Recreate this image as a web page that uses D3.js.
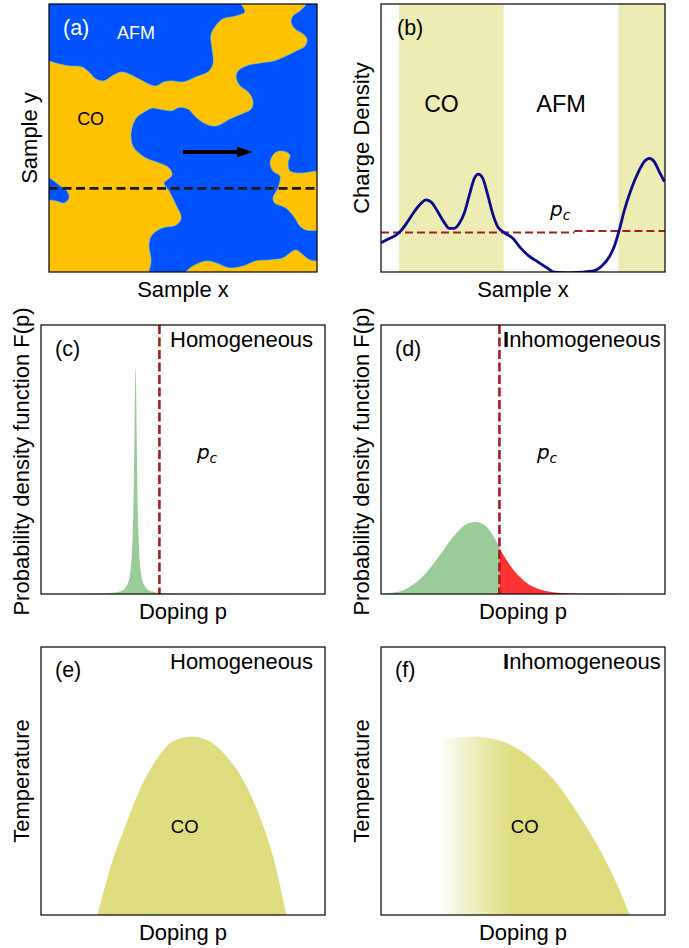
<!DOCTYPE html>
<html><head><meta charset="utf-8">
<script src="https://cdn.jsdelivr.net/npm/d3@7"></script>
<style>body{margin:0;background:#fff} svg{display:block}</style>
</head><body>
<svg id="fig" width="689" height="948"></svg>
<script>
// ---------------- DATA ----------------
// (a) domain map, sample units 0..100 (x right, y up). Each region = list of boundary segments.
const coRegionMain = [
  [[-3,79.3],[0,78.7],[3.7,77.6],[7.5,76.9],[12.3,76.5],[14.9,74.6],[17.5,72],[20.5,71.3],[23.5,73.1],[26.9,74.6],[29.8,73.9],[33.6,72],[37.3,70.1],[39.9,69.4],[42.9,70.9],[45.9,71.3],[50,70.9],[54.8,72.8],[59.3,74.6],[61.2,77.6],[60.8,83.9],[60.4,88.1],[61.9,91.4],[64.9,94.4],[69.8,95.5],[73.1,97],[72.4,98.9],[71.6,100],[71.2,103]],
  [[96.5,103],[96,100],[93.5,97.4],[91,95.5],[90.3,93.3],[91.8,90.7],[94.8,88.8],[96.3,86.9],[95.5,84.3],[92.2,82.5],[88.4,80.6],[83.6,78.7],[78.7,78],[73.5,76.9],[70.5,75],[69.8,72.8],[71.3,69.4],[74.3,67.2],[76.1,63.8],[75.4,60.8],[71.6,58.9],[67.5,57.1],[62.3,54.5],[58.6,55.2],[54.8,57.8],[51.9,60.8],[48.5,61.4],[45.9,60.2],[42.2,60.6],[38.4,61.2],[36.2,60.1],[32.8,57.8],[31,54.1],[30.6,50],[31.7,46.3],[36.2,42.5],[41,40.7],[44.8,38.8],[45.9,36.2],[44,34.3],[42.9,33.2],[44.8,30.2],[47.4,25],[49.3,20.1],[47.4,17.5],[42.2,16.4],[38.4,13.8],[37.3,10.1],[38.1,4.1],[37.3,0],[37.2,-3]],
  [[-3,-3]],
  [[-3,26.9],[0,26.9],[2.6,26.5],[5.6,25.7],[7.5,27.6],[6.7,30.2],[3.7,32.5],[0,35.1],[-3,35.3]]
];
const coRegionRight = [
  [[103,37.9],[100,37.7],[93.6,36.9],[89.9,37.7],[89.2,40.7],[89.9,43.7],[87.3,45.1],[84.3,44.4],[82.5,40.7],[83.6,37.7],[86.2,35.8],[85.4,31.3],[83.6,27.6],[84.3,25.7],[88.4,23.9],[91.8,20.1],[93.6,17.2],[95.9,15.7],[100,15.5],[103,15.5]]
];
const coRegionBottom = [
  [[48.5,-3],[51,0],[53.7,2.2],[58.6,4.1],[62.3,3.4],[67.5,1.5],[72.4,2.2],[77.2,4.1],[82.5,4.5],[87.3,5.2],[89.9,7.1],[92.2,8.2],[94.8,6.3],[97.4,4.5],[100,4.1],[103,4.1]],
  [[103,-3]]
];
const cutLineY = 31.2;
const arrowMap = {x0: 50, x1: 76.1, head: 70.1, y: 44.8};

// (b) charge density along the cut
const chargeX = [0,2.4,5.3,7,9.4,11.7,14.1,15.8,17.6,20,22.3,24,25.8,27.6,29.3,31.1,32.9,34.3,35.8,37.6,39.3,41.1,43.4,46.4,49.3,51.7,55.2,58.7,61,65.7,70.4,75.1,78.1,80.4,82.1,83.9,85.7,88,90.4,92.7,94.5,96.2,98,99.8];
const chargeY = [10.9,12.2,13.8,15.4,18.8,22.5,25.6,26.9,26.2,22.5,18.4,16.3,16.3,18.2,21.9,28.7,35,36.5,35,28.7,21.9,16.9,14.7,12.6,8.8,6.3,3.8,1.4,-0.1,-0.3,-0.1,0.5,2.6,5.7,9.4,15.7,23.1,30.6,36.8,41.2,42.4,41.2,37.4,33.7];
const coBands = [[6.4,43.2],[83.6,100]];
const pcLevels = [[0,68.1,14.7],[68.1,100,15.3]];

// (c) homogeneous PDF
const pdfHomX = [13.3,23.3,27.3,29.3,30.3,31.1,31.6,32.0,32.3,32.5,32.7,32.9,33.1,33.3,33.5,33.7,33.9,34.1,34.3,34.6,35.0,35.5,36.3,37.3,39.3,43.3,53.3,83];
const pdfHomY = [0.08,0.3,0.85,1.9,3.3,5.9,9.4,14.9,22.4,30.5,42.3,58.6,76.1,84.6,76.1,58.6,42.3,30.5,22.4,14.9,9.4,5.9,3.3,1.9,0.85,0.3,0.08,0];
// (d) inhomogeneous PDF
const pdfInhX = [0,4,7,10,13,16,19,22,25,28,31,33.3,35.5,38,40,41.7,44,46.6,49,51.3,54,58,62,68,75,85];
const pdfInhY = [0.1,0.5,1.0,2.6,4.8,8,12,16.3,20.7,24.3,26.4,26.8,26.2,24,20.8,17.2,13,9,6.2,4.1,2.5,1.1,0.5,0.2,0.05,0];
const pcDoping = 41.7;

// (e) homogeneous CO dome
const domeHomX = [19.9,24.2,30.1,34.8,40.6,46.5,53,59.4,65.3,71.1,77,81.7,86.4];
const domeHomY = [0,16.9,34.3,46.8,57.9,64.8,66.6,64.8,59.2,50.5,36.8,21.9,0];
// (f) inhomogeneous CO dome
const domeInhX = [21.3,21.3,22.2,24.5,28,32.4,38,44.2,53.5,61.8,68.8,77,82.9,87.6];
const domeInhY = [0,62.5,64.6,65.7,66.4,66.6,66,64.2,57.9,49.3,38.7,24.4,11.9,0];
const fadeRange = [21.3, 46];

const panelTags = ["(a)","(b)","(c)","(d)","(e)","(f)"];
const yLabels = ["Sample y","Charge Density","Probability density function F(p)","Probability density function F(p)","Temperature","Temperature"];
const xLabels = ["Sample x","Sample x","Doping p","Doping p","Doping p","Doping p"];
const stateLabels = ["Homogeneous","Inhomogeneous","Homogeneous","Inhomogeneous"];

// ---------------- DRAW ----------------
const svg = d3.select("#fig");
svg.append("rect").attr("width",689).attr("height",948).attr("fill","#fff");
const FONT = "'Liberation Sans', Arial, Helvetica, sans-serif";
const MATH = "'DejaVu Sans', sans-serif";

const frames = [
  {l:49,t:4,r:317,b:272},
  {l:381,t:4,r:665,b:272},
  {l:41,t:325,r:325,b:594},
  {l:381,t:325,r:665,b:594},
  {l:41,t:647,r:325,b:915},
  {l:381,t:647,r:665,b:915}
];
const ylabX = [36.5,368.5,28.5,368.5,29,369];
const defs = svg.append("defs");

const panels = frames.map((f,i)=>{
  const x = d3.scaleLinear().domain([0,100]).range([f.l,f.r]);
  const y = d3.scaleLinear().domain([0,100]).range([f.b,f.t]);
  const id = "clip"+i;
  defs.append("clipPath").attr("id",id).append("rect")
    .attr("x",f.l).attr("y",f.t).attr("width",f.r-f.l).attr("height",f.b-f.t);
  const g = svg.append("g");
  const inner = g.append("g").attr("clip-path",`url(#${id})`);
  return {f,x,y,g,inner};
});

function regionPath(segs,x,y){
  const ln = d3.line().x(d=>x(d[0])).y(d=>y(d[1])).curve(d3.curveCatmullRom.alpha(0.5));
  let s = "";
  segs.forEach((seg,i)=>{
    let p = seg.length>1 ? ln(seg) : `M${x(seg[0][0])},${y(seg[0][1])}`;
    if(i>0) p = "L"+p.slice(1);
    s += p;
  });
  return s+"Z";
}

// ---- (a)
{
  const {f,x,y,inner} = panels[0];
  inner.append("rect").attr("x",f.l).attr("y",f.t).attr("width",f.r-f.l).attr("height",f.b-f.t).attr("fill","#0052FF");
  [coRegionMain,coRegionRight,coRegionBottom].forEach(r=>{
    inner.append("path").attr("d",regionPath(r,x,y)).attr("fill","#FFC200")
      .attr("stroke","#7fd0c0").attr("stroke-width",0.6);
  });
  inner.append("line").attr("x1",x(0)).attr("x2",x(100)).attr("y1",y(cutLineY)).attr("y2",y(cutLineY))
    .attr("stroke","#1a1a1a").attr("stroke-width",2.6).attr("stroke-dasharray","9,4.5");
  inner.append("line").attr("x1",x(arrowMap.x0)).attr("x2",x(arrowMap.head)+1).attr("y1",y(arrowMap.y)).attr("y2",y(arrowMap.y))
    .attr("stroke","#000").attr("stroke-width",4);
  const p = d3.path();
  p.moveTo(x(arrowMap.head), y(arrowMap.y)-5.5);
  p.lineTo(x(arrowMap.x1), y(arrowMap.y));
  p.lineTo(x(arrowMap.head), y(arrowMap.y)+5.5);
  p.closePath();
  inner.append("path").attr("d",p.toString()).attr("fill","#000");
  inner.append("text").attr("x",f.l+14).attr("y",f.t+31).text(panelTags[0])
    .attr("font-family",FONT).attr("font-size",21.5).attr("fill","#fff");
  inner.append("text").attr("x",x(25.4)).attr("y",f.t+35).text("AFM")
    .attr("font-family",FONT).attr("font-size",18).attr("fill","#fff");
  inner.append("text").attr("x",x(10.5)).attr("y",124.5).text("CO")
    .attr("font-family",FONT).attr("font-size",18).attr("fill","#000");
}

// ---- (b)
{
  const {f,x,y,inner} = panels[1];
  coBands.forEach(b=>{
    inner.append("rect").attr("x",x(b[0])).attr("width",x(b[1])-x(b[0])).attr("y",f.t).attr("height",f.b-f.t)
      .attr("fill","#EEECB5");
  });
  pcLevels.forEach(l=>{
    inner.append("line").attr("x1",x(l[0])).attr("x2",x(l[1])).attr("y1",y(l[2])).attr("y2",y(l[2]))
      .attr("stroke","#A31F1F").attr("stroke-width",2).attr("stroke-dasharray","8,4");
  });
  const ln = d3.line().x((d,i)=>x(chargeX[i])).y(d=>y(d)).curve(d3.curveMonotoneX);
  inner.append("path").attr("d",ln(chargeY)).attr("fill","none").attr("stroke","#0B0B8C").attr("stroke-width",2.8)
    .attr("stroke-linejoin","round");
  inner.append("text").attr("x",f.l+16).attr("y",f.t+31).text(panelTags[1])
    .attr("font-family",FONT).attr("font-size",21.5).attr("fill","#000");
  inner.append("text").attr("x",x((coBands[0][0]+coBands[0][1])/2)-10).attr("y",111.5).attr("text-anchor","middle").text("CO")
    .attr("font-family",FONT).attr("font-size",23).attr("fill","#000");
  inner.append("text").attr("x",x((coBands[0][1]+coBands[1][0])/2)).attr("y",111.5).attr("text-anchor","middle").text("AFM")
    .attr("font-family",FONT).attr("font-size",23.5).attr("fill","#000");
  const t = inner.append("text").attr("x",x(59.5)).attr("y",y(20.9)).attr("font-family",MATH).attr("font-size",20).attr("fill","#000");
  t.append("tspan").attr("font-style","italic").text("p");
  t.append("tspan").attr("font-style","italic").attr("font-size",14).attr("dy",4).text("c");
}

// ---- (c), (d)
function pdfPanel(idx, xs, ys, split, label){
  const {f,x,y,inner} = panels[idx];
  const area = d3.area().x((d,i)=>x(xs[i])).y0(y(0)).y1(d=>y(d)).curve(d3.curveMonotoneX);
  if(split){
    const L = "clipL"+idx, R = "clipR"+idx;
    defs.append("clipPath").attr("id",L).append("rect").attr("x",f.l).attr("y",f.t).attr("width",x(pcDoping)-f.l).attr("height",f.b-f.t);
    defs.append("clipPath").attr("id",R).append("rect").attr("x",x(pcDoping)).attr("y",f.t).attr("width",f.r-x(pcDoping)).attr("height",f.b-f.t);
    inner.append("path").attr("d",area(ys)).attr("fill","#99CC99").attr("clip-path",`url(#${L})`);
    inner.append("path").attr("d",area(ys)).attr("fill","#FF3333").attr("clip-path",`url(#${R})`);
  } else {
    inner.append("path").attr("d",area(ys)).attr("fill","#99CC99");
  }
  inner.append("line").attr("x1",x(pcDoping)).attr("x2",x(pcDoping)).attr("y1",f.t).attr("y2",f.b)
    .attr("stroke","#A31F1F").attr("stroke-width",2.6).attr("stroke-dasharray","9,3.5");
  inner.append("text").attr("x",f.l+14).attr("y",f.t+31).text(panelTags[idx])
    .attr("font-family",FONT).attr("font-size",21.5).attr("fill","#000");
  const t = inner.append("text").attr("x",x(54.9)).attr("y",y(50.3)).attr("font-family",MATH).attr("font-size",20).attr("fill","#000");
  t.append("tspan").attr("font-style","italic").text("p");
  t.append("tspan").attr("font-style","italic").attr("font-size",14).attr("dy",4).text("c");
  stateText(inner, f, label);
}
function stateText(inner, f, label){
  const t = inner.append("text").attr("y",f.t+21.5).attr("font-family",FONT).attr("font-size",22).attr("fill","#000");
  if(label.startsWith("I")){
    t.attr("x",f.l+122);
    t.append("tspan").attr("font-weight","bold").text(label[0]);
    t.append("tspan").text(label.slice(1));
  } else {
    t.attr("x",f.l+129).text(label);
  }
}
pdfPanel(2, pdfHomX, pdfHomY, false, stateLabels[0]);
pdfPanel(3, pdfInhX, pdfInhY, true, stateLabels[1]);

// ---- (e), (f)
{
  const {f,x,y,inner} = panels[4];
  const area = d3.area().x((d,i)=>x(domeHomX[i])).y0(y(0)).y1(d=>y(d)).curve(d3.curveMonotoneX);
  inner.append("path").attr("d",area(domeHomY)).attr("fill","#DFDD80");
  inner.append("text").attr("x",f.l+14).attr("y",f.t+30).text(panelTags[4])
    .attr("font-family",FONT).attr("font-size",21.5).attr("fill","#000");
  inner.append("text").attr("x",x(50.6)).attr("y",y(30.5)).attr("text-anchor","middle").text("CO")
    .attr("font-family",FONT).attr("font-size",18.5).attr("fill","#000");
  stateText(inner, f, stateLabels[2]);
}
{
  const {f,x,y,inner} = panels[5];
  const grad = defs.append("linearGradient").attr("id","fade").attr("gradientUnits","userSpaceOnUse")
    .attr("x1",x(fadeRange[0])).attr("x2",x(fadeRange[1])).attr("y1",0).attr("y2",0);
  grad.append("stop").attr("offset","0").attr("stop-color","#DFDD80").attr("stop-opacity",0.04);
  grad.append("stop").attr("offset","0.5").attr("stop-color","#DFDD80").attr("stop-opacity",0.55);
  grad.append("stop").attr("offset","1").attr("stop-color","#DFDD80").attr("stop-opacity",1);
  const area = d3.area().x((d,i)=>x(domeInhX[i])).y0(y(0)).y1(d=>y(d)).curve(d3.curveMonotoneX);
  inner.append("path").attr("d",area(domeInhY)).attr("fill","url(#fade)");
  inner.append("text").attr("x",f.l+14).attr("y",f.t+30).text(panelTags[5])
    .attr("font-family",FONT).attr("font-size",21.5).attr("fill","#000");
  inner.append("text").attr("x",x(50.6)).attr("y",y(30.5)).attr("text-anchor","middle").text("CO")
    .attr("font-family",FONT).attr("font-size",18.5).attr("fill","#000");
  stateText(inner, f, stateLabels[3]);
}

// ---- frames and axis labels
panels.forEach((p,i)=>{
  const f = p.f;
  p.g.append("rect").attr("x",f.l).attr("y",f.t).attr("width",f.r-f.l).attr("height",f.b-f.t)
    .attr("fill","none").attr("stroke","#000").attr("stroke-width",1.2);
  p.g.append("text").attr("x",(f.l+f.r)/2).attr("y",f.b+25).attr("text-anchor","middle").text(xLabels[i])
    .attr("font-family",FONT).attr("font-size",22).attr("fill","#000");
  const cy = (f.t+f.b)/2 + (i===2||i===3 ? 2 : 0);
  p.g.append("text").attr("transform",`translate(${ylabX[i]},${cy}) rotate(-90)`).attr("text-anchor","middle").text(yLabels[i])
    .attr("font-family",FONT).attr("font-size",22).attr("fill","#000");
});
</script>
</body></html>
